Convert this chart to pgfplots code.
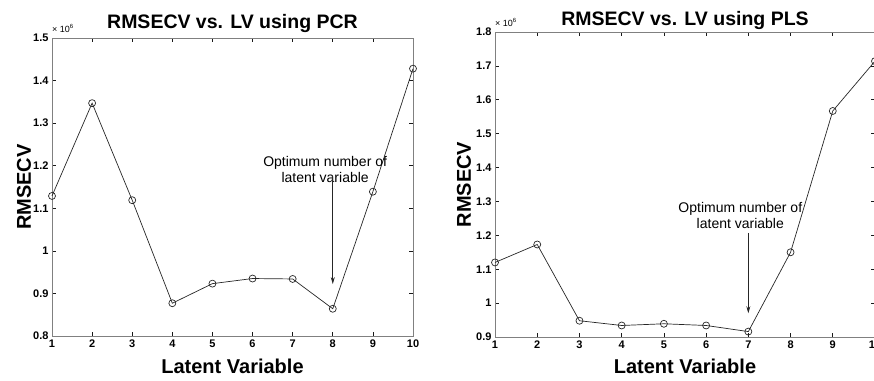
\documentclass[border=0pt]{standalone}
\usepackage{fontspec}
\setmainfont{Liberation Sans}
\usepackage{pgfplots}
\pgfplotsset{compat=1.18}
\usetikzlibrary{arrows.meta}
\begin{document}
\begin{tikzpicture}
\useasboundingbox (0pt,0pt) rectangle (874pt,380pt);
\clip (0pt,0pt) rectangle (874pt,380pt);
\pgfplotsset{
  mystyle/.style={
    scale only axis,
    anchor=south west,
    xmin=1, xmax=10,
    xtick={1,2,3,4,5,6,7,8,9,10},
    xticklabels={1,2,3,4,5,6,7,8,9,10},
    tick align=inside,
    xtick pos=both, ytick pos=both,
    major tick length=4pt,
    axis line style={black!50, line width=1pt},
    tick style={black!90, line width=0.7pt},
    tick label style={font=\bfseries\fontsize{11}{11}\selectfont},
    /pgf/number format/assume math mode=true,
    clip=false,
  },
  myline/.style={black!85, line width=0.7pt, mark=o, mark size=3.5pt, mark options={solid}},
}
% ---------- PCR ----------
\begin{axis}[mystyle, at={(52pt,44pt)}, width=361pt, height=298pt,
  ymin=0.8, ymax=1.5,
  ytick={0.8,0.9,1,1.1,1.2,1.3,1.4,1.5},
  yticklabels={0.8,0.9,1,1.1,1.2,1.3,1.4,1.5}]
\addplot[myline] coordinates {
  (1,1.129) (2,1.347) (3,1.119) (4,0.877) (5,0.923)
  (6,0.935) (7,0.934) (8,0.864) (9,1.139) (10,1.428)};
\node[anchor=base, font=\bfseries\fontsize{19.5}{20}\selectfont] at ([yshift=10pt]rel axis cs:0.5,1) {RMSECV vs. LV using PCR};
\node[anchor=base west, inner sep=0pt, font=\fontsize{9}{9}\selectfont] at ([yshift=6pt]rel axis cs:0,1) {× 10\textsuperscript{6}};
\node[anchor=base, font=\bfseries\fontsize{20}{20}\selectfont] at ([yshift=-37pt]rel axis cs:0.5,0) {Latent Variable};
\node[rotate=90, font=\bfseries\fontsize{20}{20}\selectfont] at ([xshift=-28pt]rel axis cs:0,0.5) {RMSECV};
\node[align=center, font=\fontsize{14}{16}\selectfont] at (axis cs:7.81,1.19) {Optimum number of\\latent variable};
\draw[-{Stealth[length=7pt,width=4pt]}, line width=0.7pt, black!85] (axis cs:8,1.175) -- (axis cs:8,0.922);
\end{axis}
% ---------- PLS ----------
\begin{axis}[mystyle, at={(495pt,43pt)}, width=380pt, height=305pt,
  ymin=0.9, ymax=1.8,
  ytick={0.9,1,1.1,1.2,1.3,1.4,1.5,1.6,1.7,1.8},
  yticklabels={0.9,1,1.1,1.2,1.3,1.4,1.5,1.6,1.7,1.8}]
\addplot[myline] coordinates {
  (1,1.120) (2,1.173) (3,0.948) (4,0.934) (5,0.939)
  (6,0.934) (7,0.916) (8,1.150) (9,1.567) (10,1.714)};
\node[anchor=base, font=\bfseries\fontsize{19.5}{20}\selectfont] at ([yshift=7pt]rel axis cs:0.5,1) {RMSECV vs. LV using PLS};
\node[anchor=base west, inner sep=0pt, font=\fontsize{9}{9}\selectfont] at ([yshift=6pt]rel axis cs:0,1) {× 10\textsuperscript{6}};
\node[anchor=base, font=\bfseries\fontsize{20}{20}\selectfont] at ([yshift=-36pt]rel axis cs:0.5,0) {Latent Variable};
\node[rotate=90, font=\bfseries\fontsize{20}{20}\selectfont] at ([xshift=-31pt]rel axis cs:0,0.5) {RMSECV};
\node[align=center, font=\fontsize{14}{16}\selectfont] at (axis cs:6.81,1.26) {Optimum number of\\latent variable};
\draw[-{Stealth[length=7pt,width=4pt]}, line width=0.7pt, black!85] (axis cs:7,1.207) -- (axis cs:7,0.97);
\end{axis}
\end{tikzpicture}
\end{document}
